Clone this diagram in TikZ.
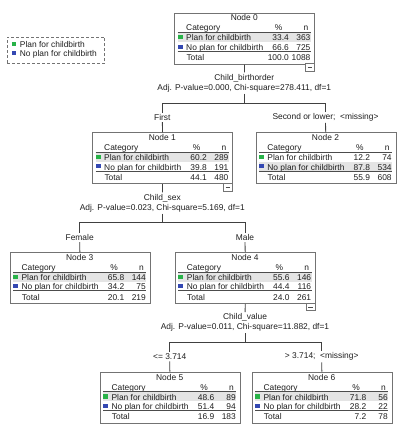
\documentclass[tikz,border=0pt]{standalone}
\usepackage{fontspec}
\setmainfont{Liberation Sans}
\definecolor{boxgray}{RGB}{115,115,115}
\definecolor{shadegray}{RGB}{228,228,228}
\definecolor{spssgreen}{RGB}{40,178,72}
\definecolor{spssblue}{RGB}{52,72,178}
\definecolor{txt}{RGB}{30,30,30}
\tikzset{
  every node/.style={font=\fontsize{8.4}{10}\selectfont, text=txt},
  boxnode/.style={draw=boxgray, line width=0.9pt, minimum width=140pt, minimum height=51pt, anchor=north west, inner sep=0pt},
  cell/.style={inner sep=0pt},
  conn/.style={draw=black!75, line width=0.8pt},
  lbl/.style={inner sep=1.5pt, align=center},
  rulel/.style={draw=black!70, line width=0.6pt},
  legbox/.style={draw=boxgray, line width=0.8pt, dash pattern=on 3pt off 2pt, minimum width=97.6pt, minimum height=26.6pt, anchor=north west, inner sep=0pt}
}
\newcommand{\spssnode}[9]{%
  \node[boxnode] (#1) at (#2,#3) {};
  \begin{scope}[shift={(#1.north west)}]
    \fill[shadegray] (3.3,#9) rectangle (136.7,#9+9.4);
    \node[cell,anchor=base] at (70,8.3) {Node #4};
    \node[cell,anchor=base west] at (11.7,18.3) {Category};
    \node[cell,anchor=base] at (104.3,18.3) {\%};
    \node[cell,anchor=base] at (131.7,18.3) {n};
    \draw[rulel] (3.3,19.9) -- (136.7,19.9);
    \fill[spssgreen] (3.3,22.6) rectangle (8.3,26.8);
    \node[cell,anchor=base west] at (11.7,28.3) {Plan for childbirth};
    \node[cell,anchor=base east] at (114.7,28.3) {#5};
    \node[cell,anchor=base east] at (136.3,28.3) {#6};
    \fill[spssblue] (3.3,31.9) rectangle (8.3,36.1);
    \node[cell,anchor=base west] at (11.7,37.7) {No plan for childbirth};
    \node[cell,anchor=base east] at (114.7,37.7) {#7};
    \node[cell,anchor=base east] at (136.3,37.7) {#8};
    \draw[rulel] (3.3,38.6) -- (136.7,38.6);
  \end{scope}}
\newcommand{\spsstotal}[3]{%
  \begin{scope}[shift={(#1.north west)}]
    \node[cell,anchor=base west] at (12,48) {Total};
    \node[cell,anchor=base east] at (114.7,48) {#2};
    \node[cell,anchor=base east] at (136.3,48) {#3};
  \end{scope}}
\newcommand{\spssminus}[1]{%
  \begin{scope}[shift={(#1.north west)}]
    \draw[draw=boxgray, line width=0.7pt, fill=white] (131,51) rectangle (140,58.7);
    \draw[draw=black!70, line width=0.6pt] (133.2,54.9) -- (137.8,54.9);
  \end{scope}}
\begin{document}
\begin{tikzpicture}[x=1pt,y=-1pt]
\useasboundingbox (0,0) rectangle (401,428);

% legend
\node[legbox] (leg) at (6.7,36.7) {};
\fill[spssgreen] (12.3,42.3) rectangle (16,45.9);
\node[cell,anchor=base west] (legA) at (19.7,47.3) {Plan for childbirth};
\fill[spssblue] (12.3,51.3) rectangle (16,54.9);
\node[cell,anchor=base west] (legB) at (19.7,56.3) {No plan for childbirth};

% tree nodes
\spssnode{n0}{174.3}{12.7}{0}{33.4}{363}{66.6}{725}{20.3}
\spsstotal{n0}{100.0}{1088}
\spssminus{n0}

\spssnode{n1}{92.3}{132.3}{1}{60.2}{289}{39.8}{191}{20.3}
\spsstotal{n1}{44.1}{480}
\spssminus{n1}

\spssnode{n2}{255.5}{132.3}{2}{12.2}{74}{87.8}{534}{29.3}
\spsstotal{n2}{55.9}{608}

\spssnode{n3}{9.7}{252}{3}{65.8}{144}{34.2}{75}{20.3}
\spsstotal{n3}{20.1}{219}

\spssnode{n4}{175}{252}{4}{55.6}{146}{44.4}{116}{20.3}
\spsstotal{n4}{24.0}{261}
\spssminus{n4}

\spssnode{n5}{99.7}{371.7}{5}{48.6}{89}{51.4}{94}{20.3}
\spsstotal{n5}{16.9}{183}

\spssnode{n6}{251.7}{371.7}{6}{71.8}{56}{28.2}{22}{20.3}
\spsstotal{n6}{7.2}{78}

% split labels
\node[lbl] (s0) at (244.3,83) {Child\_birthorder\\Adj. P-value=0.000, Chi-square=278.411, df=1};
\node[lbl] (s1) at (162.3,203) {Child\_sex\\Adj. P-value=0.023, Chi-square=5.169, df=1};
\node[lbl] (s4) at (245,322.7) {Child\_value\\Adj. P-value=0.011, Chi-square=11.882, df=1};

% edge labels
\node[lbl] (e1) at (162.3,117.3) {First};
\node[lbl] (e2) at (325.5,117.3) {Second or lower;\ \ <missing>};
\node[lbl] (e3) at (79.7,237.3) {Female};
\node[lbl] (e4) at (245,237.3) {Male};
\node[lbl] (e5) at (169.7,356.7) {<= 3.714};
\node[lbl] (e6) at (321.7,356.7) {> 3.714;\ \ <missing>};

\coordinate (j0) at (244.3,103.3);
\coordinate (j1) at (162.3,222.3);
\coordinate (j4) at (245,342);

% connectors
\draw[conn] (n0) -- (s0);
\draw[conn] (s0) -- (j0);
\draw[conn] (j0) -| (e1);
\draw[conn] (j0) -| (e2);
\draw[conn] (e1) -- (n1);
\draw[conn] (e2) -- (n2);

\draw[conn] (n1) -- (s1);
\draw[conn] (s1) -- (j1);
\draw[conn] (j1) -| (e3);
\draw[conn] (j1) -| (e4);
\draw[conn] (e3) -- (n3);
\draw[conn] (e4) -- (n4);

\draw[conn] (n4) -- (s4);
\draw[conn] (s4) -- (j4);
\draw[conn] (j4) -| (e5);
\draw[conn] (j4) -| (e6);
\draw[conn] (e5) -- (n5);
\draw[conn] (e6) -- (n6);
\end{tikzpicture}
\end{document}
